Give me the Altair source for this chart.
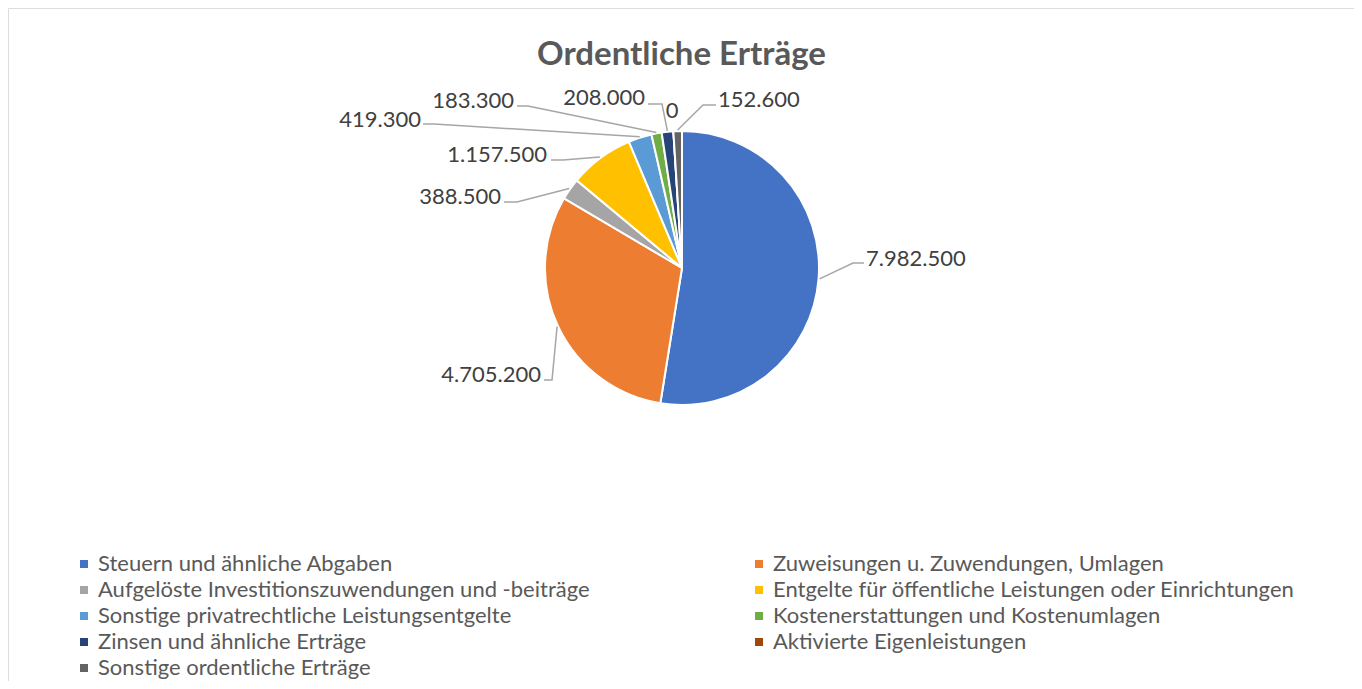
import altair as alt
import numpy as np
import pandas as pd

# ---------------- data ----------------
categories = [
    "Steuern und ähnliche Abgaben",
    "Zuweisungen u. Zuwendungen, Umlagen",
    "Aufgelöste Investitionszuwendungen und -beiträge",
    "Entgelte für öffentliche Leistungen oder Einrichtungen",
    "Sonstige privatrechtliche Leistungsentgelte",
    "Kostenerstattungen und Kostenumlagen",
    "Zinsen und ähnliche Erträge",
    "Aktivierte Eigenleistungen",
    "Sonstige ordentliche Erträge",
]
values = [7982500, 4705200, 388500, 1157500, 419300, 183300, 208000, 0, 152600]
colors = ["#4472C4", "#ED7D31", "#A5A5A5", "#FFC000", "#5B9BD5",
          "#70AD47", "#264478", "#9E480E", "#636363"]
title_text = "Ordentliche Erträge"

# ---------------- layout ----------------
MARGIN = 8
W, H = 1346, 673
CX, CY, R = 682 - MARGIN, 268 - MARGIN, 137
FONT = "Lato"

# per label: text x, baseline y, align, attach point, elbow point (page pixels)
label_layout = [
    (866, 266, "left", (864, 263), (853, 263)),
    (541, 382, "right", (544, 380), (552, 380)),
    (501, 204, "right", (504, 202), (517, 202)),
    (547, 162, "right", (551, 160), (563, 160)),
    (421, 127, "right", (423, 124), (434, 124)),
    (514, 108, "right", (517, 106), (528, 106)),
    (645, 105, "right", (648, 104), (662, 104)),
    (672, 118, "center", None, None),
    (718, 107, "left", (716, 105), (703, 105)),
]

df = pd.DataFrame({"cat": categories, "value": values, "idx": range(len(values))})
vals = np.array(values, dtype=float)
mid = np.cumsum(vals) - vals / 2
ang = 2 * np.pi * mid / vals.sum()
edge_x = CX + (R + 1) * np.sin(ang)
edge_y = CY - (R + 1) * np.cos(ang)

labels = [f"{v:,}".replace(",", ".") for v in values]
lab_rows, line_rows = [], []
for i, (tx, ty, al, att, elb) in enumerate(label_layout):
    lab_rows.append({"label": labels[i], "px": tx - MARGIN, "py": ty - MARGIN, "align": al})
    if att is not None:
        line_rows += [
            {"lid": i, "seg": 0, "px": att[0] - MARGIN, "py": att[1] - MARGIN},
            {"lid": i, "seg": 1, "px": elb[0] - MARGIN, "py": elb[1] - MARGIN},
            {"lid": i, "seg": 2, "px": edge_x[i], "py": edge_y[i]},
        ]
lab_df = pd.DataFrame(lab_rows)
line_df = pd.DataFrame(line_rows)

# legend fills column-major; reorder the domain so it reads row by row (2 columns)
legend_order = [categories[i] for i in range(0, len(categories), 2)] + \
               [categories[i] for i in range(1, len(categories), 2)]
legend_colors = [colors[categories.index(c)] for c in legend_order]

# ---------------- chart ----------------
pie = alt.Chart(df).mark_arc(radius=R, stroke="white", strokeWidth=2).encode(
    theta=alt.Theta("value:Q", stack=True),
    order=alt.Order("idx:Q"),
    color=alt.Color(
        "cat:N",
        sort=legend_order,
        scale=alt.Scale(domain=legend_order, range=legend_colors),
        legend=alt.Legend(
            orient="none", legendX=65, legendY=545, columns=2, columnPadding=158,
            symbolType="square", symbolSize=64, symbolStrokeWidth=0,
            labelFont=FONT, labelFontSize=22, labelColor="#595959",
            labelLimit=1000, rowPadding=4, labelOffset=3, title=None, padding=0,
        ),
    ),
    x=alt.value(CX),
    y=alt.value(CY),
)

lines = alt.Chart(line_df).mark_line(color="#A6A6A6", strokeWidth=1.5).encode(
    x=alt.X("px:Q", scale=None, axis=None),
    y=alt.Y("py:Q", scale=None, axis=None),
    detail="lid:N",
    order="seg:Q",
)

texts = []
for al in ["left", "right", "center"]:
    sub = lab_df[lab_df["align"] == al]
    texts.append(
        alt.Chart(sub).mark_text(align=al, baseline="alphabetic", font=FONT,
                                 fontSize=22, color="#404040").encode(
            x=alt.X("px:Q", scale=None, axis=None),
            y=alt.Y("py:Q", scale=None, axis=None),
            text="label:N",
        )
    )

title = alt.Chart(pd.DataFrame({"t": [title_text]})).mark_text(
    font=FONT, fontSize=33, fontWeight="bold", color="#595959",
    baseline="alphabetic", align="center",
).encode(x=alt.value(681.5 - MARGIN), y=alt.value(65 - MARGIN), text="t:N")

chart = alt.layer(pie, lines, *texts, title).properties(
    width=W, height=H, autosize="none", padding=0,
).configure_view(stroke="#D9D9D9", strokeWidth=2).configure(background="white")

chart.save("out.html", embed_options={"renderer": "svg", "actions": False})
